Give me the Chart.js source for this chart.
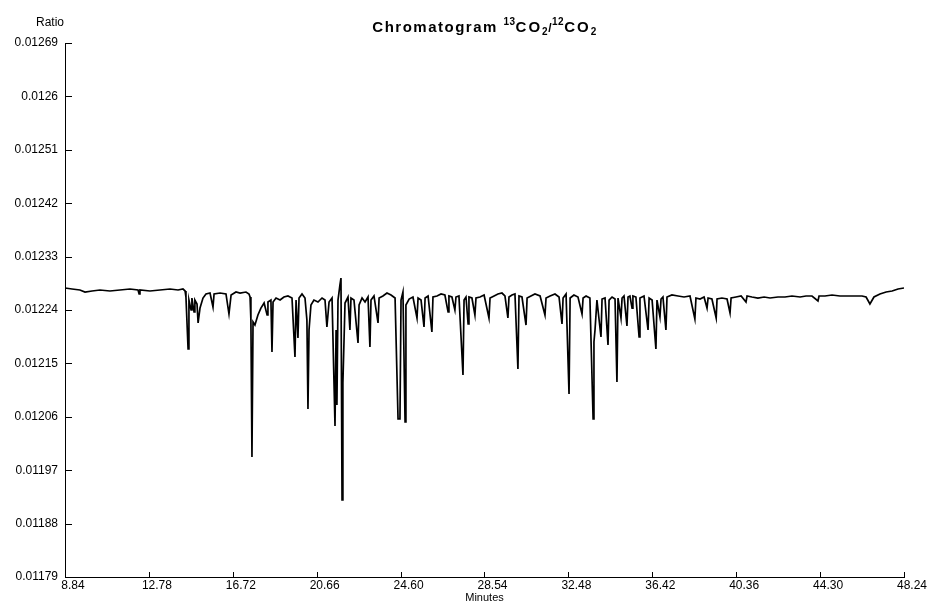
<!DOCTYPE html>
<html>
<head>
<meta charset="utf-8">
<script src="https://cdn.jsdelivr.net/npm/chart.js@4.4.1/dist/chart.umd.min.js"></script>
<style>
  body { margin: 0; background: #fff; }
  canvas { display: block; }
</style>
</head>
<body>
<canvas id="canvas1" width="928" height="603"></canvas>
<script>
// retention time (min) and 13CO2/12CO2 ratio of the trace
var minutes = [
  8.84, 9.17, 9.54, 9.78, 10.11, 10.48, 10.95, 11.42, 11.89, 12.27,
  12.32, 12.36, 12.83, 13.30, 13.77, 14.15, 14.38, 14.48, 14.52, 14.62,
  14.66, 14.76, 14.80, 14.90, 14.94, 15.04, 15.09, 15.18, 15.32, 15.46,
  15.65, 15.79, 15.84, 16.12, 16.40, 16.54, 16.64, 16.87, 17.06, 17.34,
  17.48, 17.53, 17.57, 17.62, 17.67, 17.76, 17.90, 18.04, 18.19, 18.33,
  18.37, 18.51, 18.56, 18.61, 18.75, 18.94, 19.12, 19.31, 19.50, 19.64,
  19.69, 19.78, 19.83, 19.97, 20.11, 20.20, 20.25, 20.30, 20.39, 20.53,
  20.72, 20.91, 21.05, 21.14, 21.24, 21.38, 21.52, 21.57, 21.61, 21.66,
  21.75, 21.80, 21.85, 21.89, 21.99, 22.13, 22.22, 22.27, 22.41, 22.60,
  22.65, 22.79, 22.93, 23.07, 23.16, 23.21, 23.35, 23.54, 23.59, 23.77,
  23.96, 24.15, 24.34, 24.48, 24.57, 24.62, 24.71, 24.81, 24.85, 25.00,
  25.18, 25.37, 25.42, 25.56, 25.70, 25.75, 25.89, 26.07, 26.12, 26.31,
  26.50, 26.68, 26.83, 26.87, 27.01, 27.15, 27.20, 27.34, 27.53, 27.58,
  27.67, 27.77, 27.81, 27.95, 28.09, 28.14, 28.33, 28.52, 28.75, 28.80,
  28.99, 29.17, 29.36, 29.50, 29.64, 29.69, 29.83, 29.97, 30.11, 30.16,
  30.30, 30.49, 30.54, 30.72, 30.91, 31.15, 31.38, 31.43, 31.62, 31.85,
  32.04, 32.18, 32.23, 32.37, 32.51, 32.56, 32.74, 32.93, 33.12, 33.17,
  33.31, 33.49, 33.64, 33.68, 33.73, 33.82, 34.01, 34.06, 34.20, 34.34,
  34.39, 34.53, 34.67, 34.76, 34.81, 34.95, 35.00, 35.09, 35.23, 35.28,
  35.37, 35.47, 35.51, 35.65, 35.80, 35.84, 36.03, 36.22, 36.27, 36.41,
  36.59, 36.64, 36.78, 36.83, 36.92, 37.06, 37.11, 37.34, 37.63, 37.91,
  38.19, 38.42, 38.47, 38.66, 38.85, 38.99, 39.04, 39.22, 39.42, 39.46,
  39.69, 39.93, 40.07, 40.12, 40.35, 40.59, 40.82, 40.87, 41.10, 41.38,
  41.67, 41.95, 42.32, 42.65, 42.98, 43.36, 43.64, 43.92, 44.20, 44.25,
  44.53, 44.86, 45.23, 45.61, 45.94, 46.27, 46.46, 46.64, 46.83, 47.11,
  47.40, 47.68, 47.96, 48.24
];
var ratio = [
  0.0122771, 0.0122754, 0.0122737, 0.0122703, 0.0122720, 0.0122737, 0.0122720, 0.0122737, 0.0122754, 0.0122737,
  0.0122670, 0.0122737, 0.0122720, 0.0122737, 0.0122754, 0.0122737, 0.0122754, 0.0122720, 0.0122619, 0.0121743,
  0.0122568, 0.0122400, 0.0122602, 0.0122366, 0.0122568, 0.0122501, 0.0122181, 0.0122433, 0.0122602, 0.0122670,
  0.0122686, 0.0122450, 0.0122670, 0.0122686, 0.0122670, 0.0122332, 0.0122653, 0.0122703, 0.0122686, 0.0122703,
  0.0122670, 0.0122619, 0.0122231, 0.0119923, 0.0122198, 0.0122147, 0.0122316, 0.0122433, 0.0122518, 0.0122316,
  0.0122535, 0.0122568, 0.0121692, 0.0122535, 0.0122602, 0.0122568, 0.0122619, 0.0122636, 0.0122602, 0.0121608,
  0.0122568, 0.0121928, 0.0122602, 0.0122670, 0.0122602, 0.0122231, 0.0120732, 0.0122063, 0.0122484, 0.0122568,
  0.0122535, 0.0122602, 0.0122568, 0.0122113, 0.0122535, 0.0122602, 0.0120445, 0.0122063, 0.0120799, 0.0122568,
  0.0122821, 0.0122939, 0.0119198, 0.0121170, 0.0122518, 0.0122619, 0.0122063, 0.0122602, 0.0122568, 0.0121844,
  0.0122484, 0.0122602, 0.0122535, 0.0122619, 0.0121777, 0.0122568, 0.0122636, 0.0122181, 0.0122602, 0.0122636,
  0.0122686, 0.0122653, 0.0122602, 0.0120563, 0.0120563, 0.0122568, 0.0122703, 0.0120513, 0.0122484, 0.0122585,
  0.0122619, 0.0122265, 0.0122602, 0.0122568, 0.0122113, 0.0122602, 0.0122636, 0.0122029, 0.0122619, 0.0122636,
  0.0122670, 0.0122653, 0.0122366, 0.0122636, 0.0122619, 0.0122400, 0.0122619, 0.0122636, 0.0121305, 0.0122568,
  0.0122619, 0.0122164, 0.0122619, 0.0122602, 0.0122316, 0.0122602, 0.0122619, 0.0122653, 0.0122265, 0.0122602,
  0.0122636, 0.0122670, 0.0122686, 0.0122636, 0.0122265, 0.0122619, 0.0122653, 0.0122670, 0.0121406, 0.0122636,
  0.0122619, 0.0122147, 0.0122602, 0.0122636, 0.0122670, 0.0122636, 0.0122316, 0.0122602, 0.0122636, 0.0122670,
  0.0122619, 0.0122164, 0.0122602, 0.0122670, 0.0120985, 0.0122602, 0.0122653, 0.0122619, 0.0122332, 0.0122602,
  0.0122636, 0.0122602, 0.0120563, 0.0121861, 0.0122063, 0.0122568, 0.0121945, 0.0122585, 0.0122602, 0.0121810,
  0.0122568, 0.0122619, 0.0122585, 0.0121187, 0.0122602, 0.0122265, 0.0122602, 0.0122636, 0.0122130, 0.0122619,
  0.0122636, 0.0122433, 0.0122636, 0.0122619, 0.0121945, 0.0122602, 0.0122636, 0.0122063, 0.0122602, 0.0122568,
  0.0121743, 0.0122568, 0.0122282, 0.0122585, 0.0122619, 0.0122063, 0.0122619, 0.0122653, 0.0122636, 0.0122619,
  0.0122636, 0.0122248, 0.0122602, 0.0122585, 0.0122619, 0.0122433, 0.0122602, 0.0122585, 0.0122265, 0.0122585,
  0.0122602, 0.0122585, 0.0122349, 0.0122602, 0.0122619, 0.0122636, 0.0122535, 0.0122636, 0.0122619, 0.0122602,
  0.0122619, 0.0122602, 0.0122619, 0.0122619, 0.0122636, 0.0122619, 0.0122636, 0.0122636, 0.0122552, 0.0122636,
  0.0122636, 0.0122653, 0.0122636, 0.0122636, 0.0122636, 0.0122636, 0.0122619, 0.0122501, 0.0122619, 0.0122670,
  0.0122703, 0.0122720, 0.0122754, 0.0122771
];

var minuteTicks = [8.84, 12.78, 16.72, 20.66, 24.60, 28.54, 32.48, 36.42, 40.36, 44.30, 48.24];
var minuteLabels = ['8.84', '12.78', '16.72', '20.66', '24.60', '28.54', '32.48', '36.42', '40.36', '44.30', '48.24'];
var ratioTicks = [0.01179, 0.01188, 0.01197, 0.01206, 0.01215, 0.01224, 0.01233, 0.01242, 0.01251, 0.0126, 0.01269];
var ratioLabels = ['0.01179', '0.01188', '0.01197', '0.01206', '0.01215', '0.01224', '0.01233', '0.01242', '0.01251', '0.0126', '0.01269'];

var points = [];
for (var i = 0; i < minutes.length; i++) {
    points.push({x: minutes[i], y: ratio[i]});
}

var FONT = '"Liberation Sans", Arial, sans-serif';

// inward tick marks, axis captions and the title with iso-notation
var decor = {
    id: 'decor',
    afterDraw: function(chart) {
        var ctx = chart.ctx, area = chart.chartArea;
        var xs = chart.scales.x, ys = chart.scales.y;
        ctx.save();
        ctx.strokeStyle = '#000';
        ctx.lineWidth = 1;
        ctx.beginPath();
        ys.ticks.forEach(function(t) {
            var y = Math.round(ys.getPixelForValue(t.value)) + 0.5;
            ctx.moveTo(area.left, y);
            ctx.lineTo(area.left + 7, y);
        });
        xs.ticks.forEach(function(t) {
            var x = Math.round(xs.getPixelForValue(t.value)) + 0.5;
            ctx.moveTo(x, area.bottom);
            ctx.lineTo(x, area.bottom - 5);
        });
        ctx.stroke();

        ctx.fillStyle = '#000';
        ctx.textAlign = 'center';
        ctx.textBaseline = 'alphabetic';
        ctx.font = '12px ' + FONT;
        ctx.fillText('Ratio', 50, 26);
        ctx.font = '11px ' + FONT;
        ctx.fillText('Minutes', (area.left + area.right) / 2, 601);

        // title pieces: text, size, baseline shift, letter spacing
        var parts = [
            ['Chromatogram ', 15, 0, 1.5],
            ['13', 10, -7, 0.5],
            ['CO', 15, 0, 2],
            ['2', 10, 3, 0.5],
            ['/', 12, 0, 0.5],
            ['12', 10, -7, 0.5],
            ['CO', 15, 0, 2],
            ['2', 10, 3, 0.5]
        ];
        ctx.textAlign = 'left';
        var widths = [], total = 0;
        parts.forEach(function(p) {
            ctx.font = 'bold ' + p[1] + 'px ' + FONT;
            ctx.letterSpacing = p[3] + 'px';
            var w = ctx.measureText(p[0]).width;
            widths.push(w);
            total += w;
        });
        var x = (area.left + area.right) / 2 - total / 2;
        parts.forEach(function(p, k) {
            ctx.font = 'bold ' + p[1] + 'px ' + FONT;
            ctx.letterSpacing = p[3] + 'px';
            ctx.fillText(p[0], x, 32 + p[2]);
            x += widths[k];
        });
        ctx.restore();
    }
};

var ctx = document.getElementById('canvas1');
var chromatogram = new Chart(ctx, {
    type: 'line',
    data: {
        datasets: [{
            label: 'ratio',
            data: points,
            borderColor: '#000',
            borderWidth: 1.7,
            pointRadius: 0,
            tension: 0,
            fill: false
        }]
    },
    options: {
        responsive: false,
        animation: false,
        layout: {padding: {left: 0, right: 24, top: 43, bottom: 0}},
        plugins: {legend: {display: false}, tooltip: {enabled: false}, title: {display: false}},
        scales: {
            x: {
                type: 'linear',
                min: 8.84,
                max: 48.24,
                grid: {display: false, drawTicks: false},
                border: {display: true, color: '#000', width: 1},
                afterBuildTicks: function(scale) {
                    scale.ticks = minuteTicks.map(function(v) { return {value: v}; });
                },
                afterFit: function(scale) { scale.height = 26; },
                ticks: {
                    autoSkip: false,
                    maxRotation: 0,
                    padding: 1,
                    labelOffset: 8,
                    color: '#000',
                    font: {family: FONT, size: 12},
                    callback: function(value, index) { return minuteLabels[index]; }
                }
            },
            y: {
                type: 'linear',
                min: 0.01179,
                max: 0.01269,
                grid: {display: false, drawTicks: false},
                border: {display: true, color: '#000', width: 1},
                afterBuildTicks: function(scale) {
                    scale.ticks = ratioTicks.map(function(v) { return {value: v}; });
                },
                afterFit: function(scale) { scale.width = 65; },
                ticks: {
                    autoSkip: false,
                    padding: 7,
                    color: '#000',
                    font: {family: FONT, size: 12},
                    callback: function(value, index) { return ratioLabels[index]; }
                }
            }
        }
    },
    plugins: [decor]
});
</script>
</body>
</html>
